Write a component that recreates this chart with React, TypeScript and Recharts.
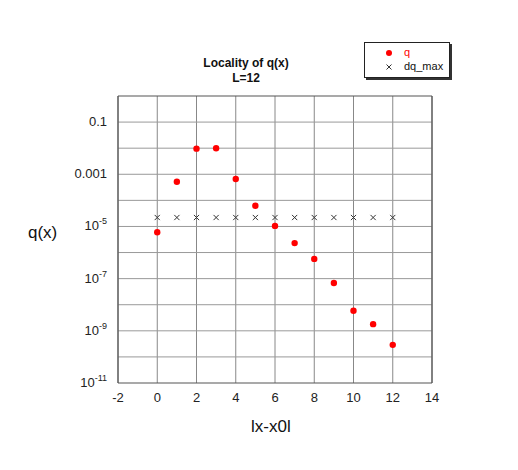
import { CartesianGrid, Legend, ReferenceLine, Scatter, ScatterChart, XAxis, YAxis } from "recharts";

const X_VALUES = [0, 1, 2, 3, 4, 5, 6, 7, 8, 9, 10, 11, 12];
const Q_VALUES = [6e-6, 5.2e-4, 9.6e-3, 1.0e-2, 6.6e-4, 6.2e-5, 1.05e-5, 2.3e-6, 5.7e-7, 6.8e-8, 5.9e-9, 1.8e-9, 2.9e-10];
const DQ_MAX = [2.2e-5, 2.2e-5, 2.2e-5, 2.2e-5, 2.2e-5, 2.2e-5, 2.2e-5, 2.2e-5, 2.2e-5, 2.2e-5, 2.2e-5, 2.2e-5, 2.2e-5];
const X_TICKS = [-2, 0, 2, 4, 6, 8, 10, 12, 14];
const Y_TICKS = [1e-11, 1e-9, 1e-7, 1e-5, 1e-3, 1e-1];
const Y_GRID = [1e-10, 1e-9, 1e-8, 1e-7, 1e-6, 1e-5, 1e-4, 1e-3, 1e-2, 1e-1];

const qData = X_VALUES.map((x, i) => ({ x, y: Q_VALUES[i] }));
const dqData = X_VALUES.map((x, i) => ({ x, y: DQ_MAX[i] }));

const FONT = "'Liberation Sans', Arial, sans-serif";

function Dot(props: any) {
  const { cx, cy } = props;
  return <circle cx={cx} cy={cy} r={3.2} fill="#ff0000" />;
}

function Cross(props: any) {
  const { cx, cy } = props;
  const s = 2.6;
  return (
    <path
      d={`M${cx - s},${cy - s}L${cx + s},${cy + s}M${cx - s},${cy + s}L${cx + s},${cy - s}`}
      stroke="#333"
      strokeWidth={1}
    />
  );
}

function YTick(props: any) {
  const { x, y, payload } = props;
  const v = payload.value;
  const exp = Math.round(Math.log10(v));
  if (exp >= -3) {
    return (
      <text x={x - 3} y={y + 4} textAnchor="end" fontSize={13} fill="#222" fontFamily={FONT}>
        {v === 0.1 ? "0.1" : "0.001"}
      </text>
    );
  }
  return (
    <text x={x - 3} y={y + 4} textAnchor="end" fontSize={13} fill="#222" fontFamily={FONT}>
      10
      <tspan fontSize={9} dy={-6}>
        {exp}
      </tspan>
    </text>
  );
}

function LegendBox() {
  return (
    <div
      style={{
        width: 84,
        height: 34,
        border: "1px solid #222",
        boxShadow: "2px 2px 0 #333",
        background: "#fff",
        fontFamily: FONT,
        fontSize: 11,
        position: "relative",
      }}
    >
      <svg width={20} height={34} style={{ position: "absolute", left: 14, top: 0 }}>
        <circle cx={10} cy={10} r={3} fill="#ff0000" />
        <path d="M7.5,21.5L12.5,26.5M7.5,26.5L12.5,21.5" stroke="#333" strokeWidth={1} />
      </svg>
      <div style={{ position: "absolute", left: 39, top: 3, color: "#ff0000" }}>q</div>
      <div style={{ position: "absolute", left: 39, top: 17, color: "#111" }}>dq_max</div>
    </div>
  );
}

export default function App() {
  return (
    <div style={{ position: "absolute", left: 0, top: 0, width: 518, height: 470, background: "#fff" }}>
      <div
        style={{
          position: "absolute",
          left: 146,
          width: 200,
          top: 56,
          textAlign: "center",
          fontFamily: FONT,
          fontWeight: "bold",
          fontSize: 12,
          lineHeight: "15px",
          color: "#111",
        }}
      >
        Locality of q(x)
        <br />
        L=12
      </div>
      <div style={{ position: "absolute", left: 28, top: 223, fontFamily: FONT, fontSize: 17, color: "#111" }}>q(x)</div>
      <div style={{ position: "absolute", left: 251, top: 417, fontFamily: FONT, fontSize: 17, color: "#111" }}>lx-x0l</div>
      <ScatterChart width={518} height={470} margin={{ top: 96, right: 86, bottom: 57, left: 58 }}>
        <CartesianGrid horizontal={false} stroke="#888" strokeWidth={1} />
        {Y_GRID.map((v) => (
          <ReferenceLine key={v} y={v} stroke="#999" strokeWidth={1} />
        ))}
        <ReferenceLine y={1} stroke="#555" strokeWidth={1.2} />
        <ReferenceLine x={14} stroke="#555" strokeWidth={1.2} />
        <XAxis
          type="number"
          dataKey="x"
          domain={[-2, 14]}
          ticks={X_TICKS}
          height={30}
          tickLine={false}
          axisLine={{ stroke: "#555", strokeWidth: 1.2 }}
          tick={{ fontSize: 13, fill: "#222", fontFamily: FONT }}
          tickMargin={4}
        />
        <YAxis
          type="number"
          dataKey="y"
          scale="log"
          domain={[1e-11, 1]}
          ticks={Y_TICKS}
          width={60}
          tickLine={false}
          axisLine={{ stroke: "#555", strokeWidth: 1.2 }}
          tick={<YTick />}
          allowDataOverflow
        />
        <Legend
          layout="vertical"
          align="center"
          verticalAlign="middle"
          content={<LegendBox />}
          wrapperStyle={{ position: "absolute", left: 364, top: 42, width: 86 }}
        />
        <Scatter name="q" data={qData} shape={<Dot />} isAnimationActive={false} />
        <Scatter name="dq_max" data={dqData} shape={<Cross />} isAnimationActive={false} />
      </ScatterChart>
    </div>
  );
}
